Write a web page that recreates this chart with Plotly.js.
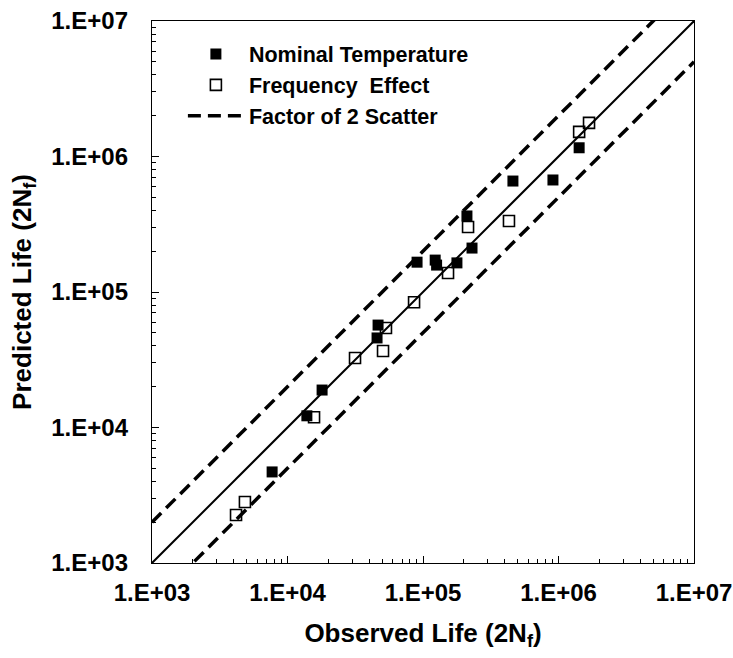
<!DOCTYPE html>
<html>
<head>
<meta charset="utf-8">
<script src="https://cdn.plot.ly/plotly-3.0.1.min.js"></script>
<style>html,body{margin:0;padding:0;background:#fff;}#chart{width:733px;height:658px;}</style>
</head>
<body>
<div id="chart"></div>
<script>
// Nominal Temperature (filled squares)
const nominalObserved = [7700, 13900, 18000, 45800, 46600, 90400, 123000, 126000, 178000, 211000, 230000, 461000, 910000, 1420000];
const nominalPredicted = [4700, 12200, 18900, 45800, 57000, 166000, 172000, 158000, 164000, 364000, 211000, 659000, 671000, 1160000];

// Frequency Effect (open squares)
const freqObserved = [4170, 4850, 15700, 31500, 50700, 53300, 85900, 153000, 215000, 431000, 1420000, 1680000];
const freqPredicted = [2260, 2820, 11900, 32600, 36700, 54200, 84000, 138000, 302000, 334000, 1520000, 1770000];

// Reference lines: 1:1 and factor-of-2 scatter bands
const lineX = [1000, 10000000];
const unityY = [1000, 10000000];
const upperY = [2000, 20000000];
const lowerY = [500, 5000000];

const tickVals = [1000, 10000, 100000, 1000000, 10000000];
const tickText = ['1.E+03', '1.E+04', '1.E+05', '1.E+06', '1.E+07'];

const FONT = 'Liberation Sans, Arial, sans-serif';

const traces = [
  {
    x: nominalObserved, y: nominalPredicted, mode: 'markers', type: 'scatter',
    name: '<b>Nominal Temperature</b>',
    marker: {symbol: 'square', size: 11, color: '#000', line: {width: 0}},
    cliponaxis: true
  },
  {
    x: freqObserved, y: freqPredicted, mode: 'markers', type: 'scatter',
    name: '<b>Frequency  Effect</b>',
    marker: {symbol: 'square-open', size: 11, color: '#000', line: {width: 1.6}},
    cliponaxis: true
  },
  {
    x: lineX, y: upperY, mode: 'lines', type: 'scatter',
    name: '<b>Factor of 2 Scatter</b>',
    line: {color: '#000', width: 3.5, dash: '13px,7px'}
  },
  {
    x: lineX, y: lowerY, mode: 'lines', type: 'scatter', showlegend: false,
    line: {color: '#000', width: 3.5, dash: '13px,7px'}
  },
  {
    x: lineX, y: unityY, mode: 'lines', type: 'scatter', showlegend: false,
    line: {color: '#000', width: 2}
  }
];

const axisCommon = {
  type: 'log',
  range: [3, 7],
  tickvals: tickVals,
  ticktext: tickText,
  ticks: 'inside',
  ticklen: 7,
  tickwidth: 1,
  tickcolor: '#000',
  showline: true,
  linecolor: '#000',
  linewidth: 1.2,
  mirror: true,
  showgrid: false,
  zeroline: false,
  minor: {ticks: 'inside', ticklen: 4, tickwidth: 1, tickcolor: '#000', dtick: 'D1', showgrid: false},
  tickfont: {family: FONT, size: 24, color: '#000', weight: 'bold'},
  automargin: false
};

const layout = {
  width: 733, height: 658,
  margin: {l: 152, r: 39, t: 21, b: 95},
  paper_bgcolor: '#fff', plot_bgcolor: '#fff',
  showlegend: true,
  legend: {
    x: 0.057, y: 0.977, xanchor: 'left', yanchor: 'top',
    bgcolor: 'rgba(0,0,0,0)', borderwidth: 0,
    itemwidth: 56,
    font: {family: FONT, size: 21.5, color: '#000'},
    traceorder: 'normal'
  },
  xaxis: Object.assign({}, axisCommon, {
    ticklabelstandoff: 8,
    title: {text: '<b>Observed Life (2N<sub>f</sub>)</b>', font: {family: FONT, size: 26, color: '#000'}, standoff: 18}
  }),
  yaxis: Object.assign({}, axisCommon, {
    ticklabelstandoff: 18,
    title: {text: '<b>Predicted Life (2N<sub>f</sub>)</b>', font: {family: FONT, size: 26, color: '#000'}, standoff: 12}
  })
};

Plotly.newPlot('chart', traces, layout, {displayModeBar: false, staticPlot: true});
</script>
</body>
</html>
